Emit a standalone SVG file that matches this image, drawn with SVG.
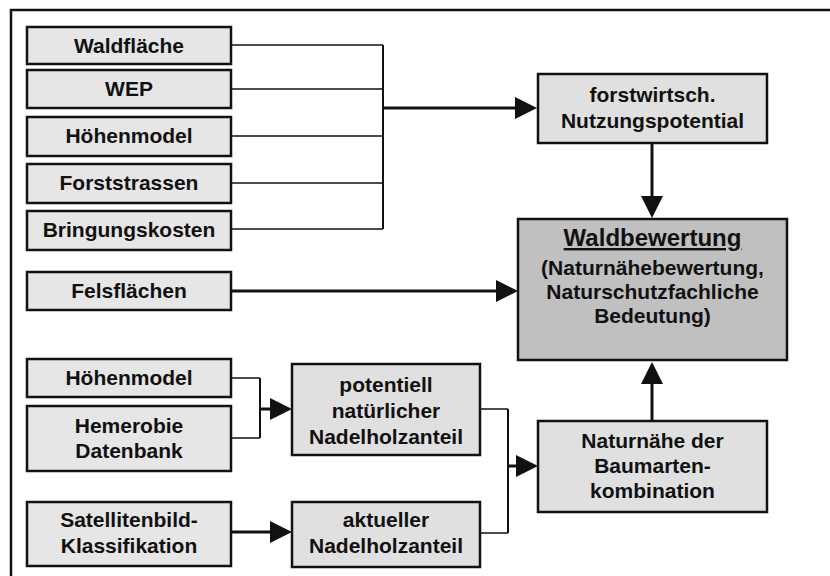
<svg xmlns="http://www.w3.org/2000/svg" width="830" height="576" viewBox="0 0 830 576">
<defs>
<style>
.box{fill:#e6e6e6;stroke:#111;stroke-width:2.5}
.mid{fill:#e0e0e0;stroke:#111;stroke-width:2.5}
.main{fill:#c0c0c0;stroke:#111;stroke-width:2.5}
text{font-family:"Liberation Sans",Arial,sans-serif;font-weight:bold;font-size:21px;fill:#111;text-anchor:middle}
.thin{fill:none;stroke:#111;stroke-width:1.6}
.bar{fill:none;stroke:#111;stroke-width:2}
.arr{fill:none;stroke:#111;stroke-width:3;marker-end:url(#ah)}
</style>
<marker id="ah" markerUnits="userSpaceOnUse" markerWidth="23" markerHeight="23" refX="12" refY="11" orient="auto">
<path d="M0,0 L22,11 L0,22 Z" fill="#111"/>
</marker>
</defs>
<rect x="0" y="0" width="830" height="576" fill="#fff"/>
<rect id="frame" x="11" y="10" width="840" height="600" fill="none" stroke="#111" stroke-width="2.5"/>

<g id="connectors">
<path class="thin" d="M231,45 H383 M231,89 H383 M231,136 H383 M231,183 H383 M231,229 H383"/>
<path class="bar" d="M383,45 V229"/>
<path class="arr" d="M383,108 H527"/>
<path class="arr" d="M652,143 V208"/>
<path class="arr" d="M231,291 H508"/>
<path class="thin" d="M231,378 H260 M231,438 H260"/>
<path class="bar" d="M260,378 V438"/>
<path class="arr" d="M260,409 H282"/>
<path class="arr" d="M231,532 H282"/>
<path class="thin" d="M480,409 H508 M480,533 H508"/>
<path class="bar" d="M508,409 V533"/>
<path class="arr" d="M508,466 H528"/>
<path class="arr" d="M652,421 V372"/>
</g>

<g id="waldflaeche"><rect class="box" x="27" y="27" width="204" height="37"/><text x="129" y="53">Waldfläche</text></g>
<g id="wep"><rect class="box" x="27" y="70" width="204" height="38"/><text x="129" y="96">WEP</text></g>
<g id="hoehenmodel1"><rect class="box" x="27" y="117" width="204" height="39"/><text x="129" y="143">Höhenmodel</text></g>
<g id="forststrassen"><rect class="box" x="27" y="164" width="204" height="39"/><text x="129" y="190">Forststrassen</text></g>
<g id="bringungskosten"><rect class="box" x="27" y="211" width="204" height="39"/><text x="129" y="237">Bringungskosten</text></g>
<g id="felsflaechen"><rect class="box" x="27" y="272" width="204" height="38"/><text x="129" y="298">Felsflächen</text></g>
<g id="hoehenmodel2"><rect class="box" x="27" y="359" width="204" height="38"/><text x="129" y="385">Höhenmodel</text></g>
<g id="hemerobie"><rect class="box" x="27" y="406" width="204" height="65"/><text x="129" y="433">Hemerobie</text><text x="129" y="458">Datenbank</text></g>
<g id="satellit"><rect class="box" x="27" y="502" width="204" height="64"/><text x="129" y="527">Satellitenbild-</text><text x="129" y="553">Klassifikation</text></g>

<g id="forstwirtsch"><rect class="mid" x="538" y="74" width="229" height="69"/><text x="652.5" y="102">forstwirtsch.</text><text x="652.5" y="128">Nutzungspotential</text></g>
<g id="waldbewertung"><rect class="main" x="518" y="219" width="269" height="141"/>
<text x="652.5" y="246" style="font-size:24px;text-decoration:underline">Waldbewertung</text>
<text x="652.5" y="275">(Naturnähebewertung,</text>
<text x="652.5" y="299">Naturschutzfachliche</text>
<text x="652.5" y="323">Bedeutung)</text></g>
<g id="potentiell"><rect class="mid" x="292" y="364" width="188" height="91"/><text x="386" y="392">potentiell</text><text x="386" y="418">natürlicher</text><text x="386" y="444">Nadelholzanteil</text></g>
<g id="aktueller"><rect class="mid" x="292" y="502" width="188" height="65"/><text x="386" y="527">aktueller</text><text x="386" y="553">Nadelholzanteil</text></g>
<g id="naturnaehe"><rect class="mid" x="538" y="421" width="229" height="91"/><text x="652.5" y="448">Naturnähe der</text><text x="652.5" y="473">Baumarten-</text><text x="652.5" y="498">kombination</text></g>
</svg>
